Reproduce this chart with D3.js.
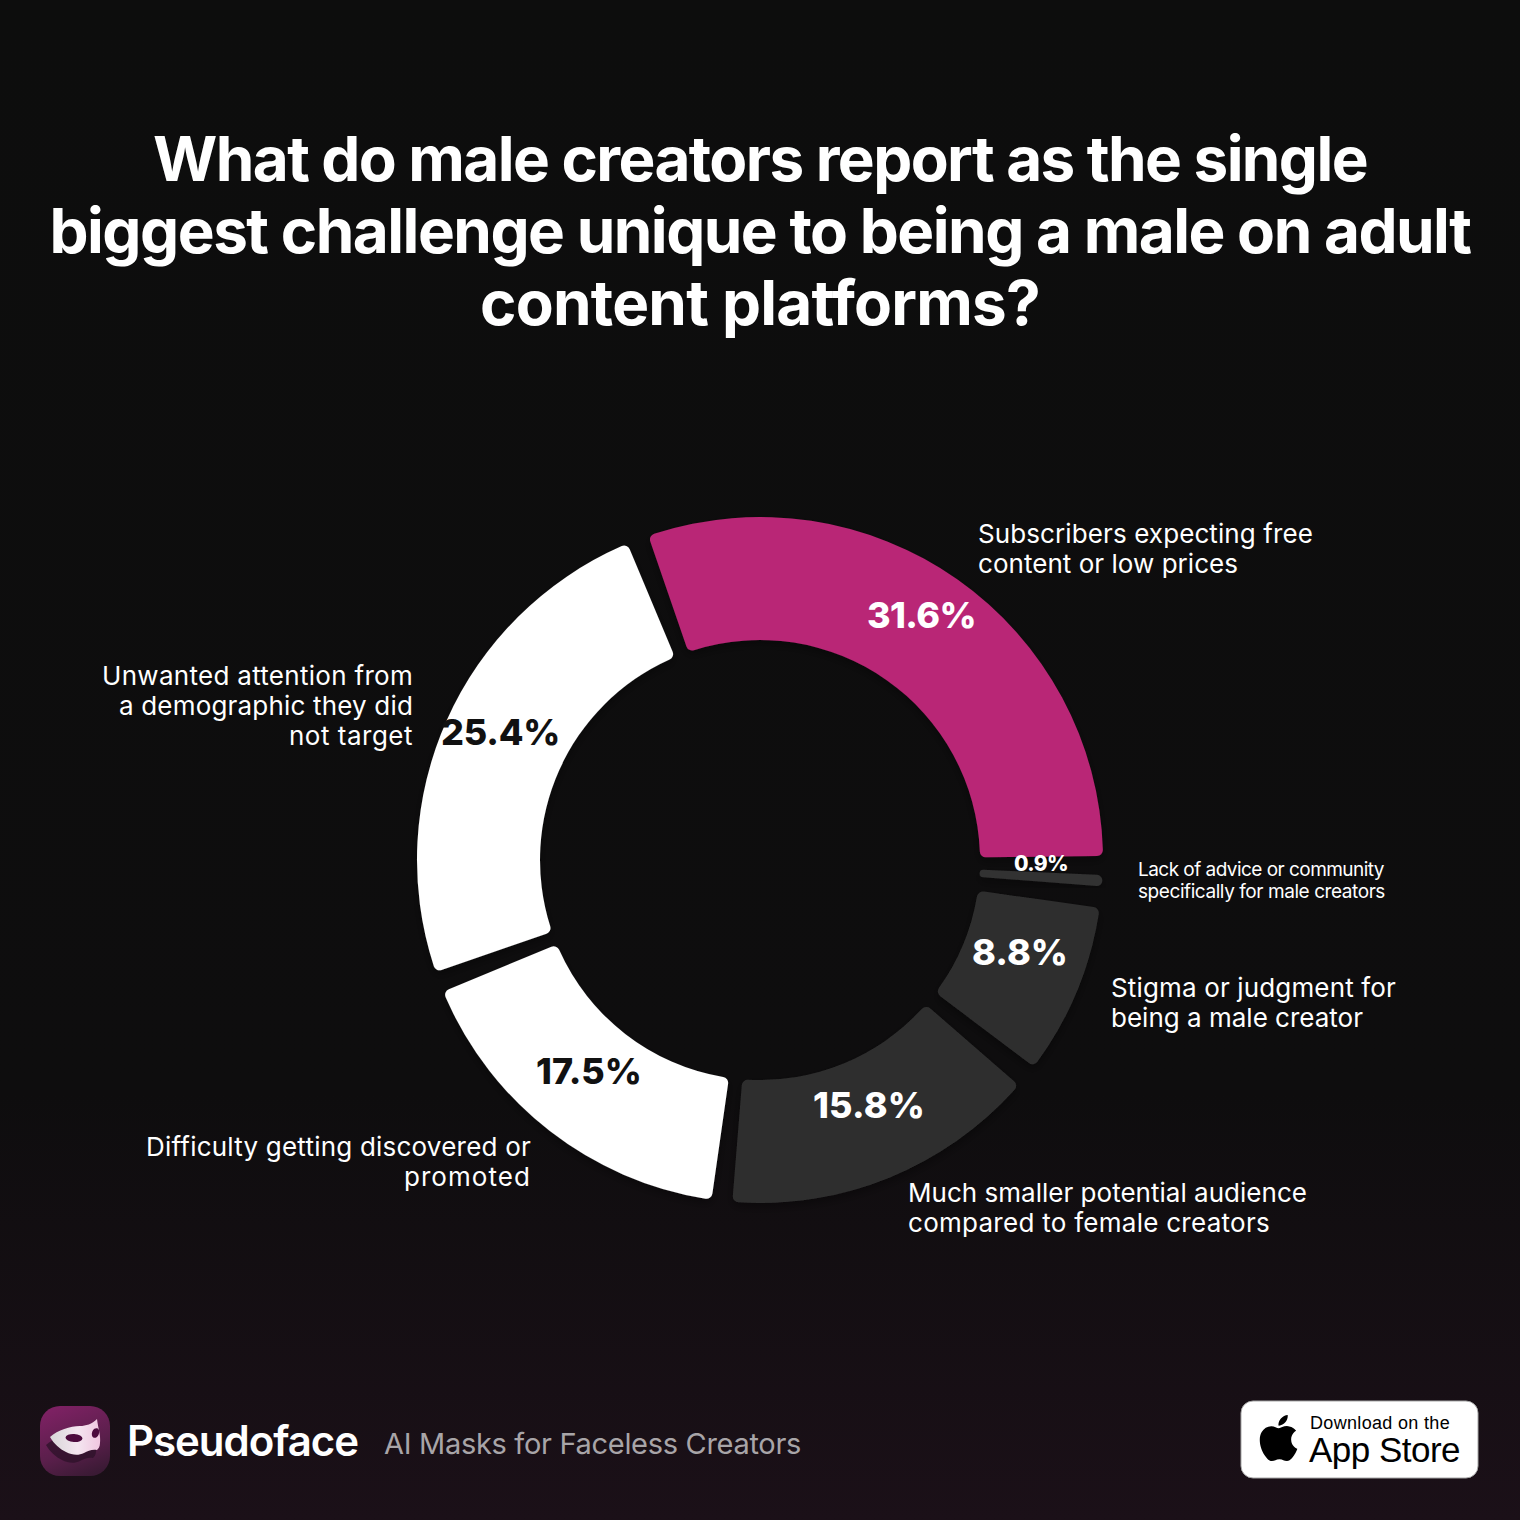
<!DOCTYPE html>
<html><head><meta charset="utf-8">
<script src="https://cdn.jsdelivr.net/npm/d3@7"></script>
<style>html,body{margin:0;padding:0;background:#0d0d0d}svg{display:block}text{font-family:Inter,"Noto Sans",sans-serif;font-kerning:normal}</style>
</head><body><div id="chart"></div>
<script>
const categories=["Subscribers expecting free content or low prices","Lack of advice or community specifically for male creators","Stigma or judgment for being a male creator","Much smaller potential audience compared to female creators","Difficulty getting discovered or promoted","Unwanted attention from a demographic they did not target"];
const values=[31.6,0.9,8.8,15.8,17.5,25.4];
const valueLabels=["31.6%","0.9%","8.8%","15.8%","17.5%","25.4%"];
const sliceColors=["#b92776","#303030","#2f2f2f","#2f2f2f","#ffffff","#ffffff"];
const valueColors=["#ffffff","#ffffff","#ffffff","#ffffff","#111111","#111111"];
const titleLines=["What do male creators report as the single","biggest challenge unique to being a male on adult","content platforms?"];

// layout of the annotation text: [x, baseline, fitted width]
const titleLayout=[[760,181,1214],[760,253,1421],[760,325,560]];
const valueLayout=[[921.5,628,109],[1041,871,54],[1020,965,96],[869,1118,112],[589,1084,106],[500.5,745,119]];
const categoryLayout=[
 {lines:["Subscribers expecting free","content or low prices"],x:978,anchor:"start",y:[543,573],w:[335,260],size:26},
 {lines:["Lack of advice or community","specifically for male creators"],x:1138,anchor:"start",y:[876,898],w:[246,247],size:19},
 {lines:["Stigma or judgment for","being a male creator"],x:1111,anchor:"start",y:[997,1027],w:[285,252],size:26},
 {lines:["Much smaller potential audience","compared to female creators"],x:908,anchor:"start",y:[1202,1232],w:[399,362],size:26},
 {lines:["Difficulty getting discovered or","promoted"],x:531,anchor:"end",y:[1156,1186],w:[385,127],size:26},
 {lines:["Unwanted attention from","a demographic they did","not target"],x:413,anchor:"end",y:[685,715,745],w:[311,294,124],size:26}];

const W=1520,H=1520,cx=760,cy=860,R=343,r=220;
const rad=d=>d*Math.PI/180;
const gap=rad(3.5);
// small visual trims of each slice's visible edges, in degrees: [start, end]
const edgeTrim=[[0.45,1.65],[1.35,0.2],[0.3,-0.5],[0,0],[0,0],[0,0.2]];
const svg=d3.select("#chart").append("svg").attr("width",W).attr("height",H).attr("viewBox",[0,0,W,H]);
const defs=svg.append("defs");
const bg=defs.append("linearGradient").attr("id","bg").attr("x1",0).attr("x2",0).attr("y1",0).attr("y2",1);
bg.append("stop").attr("offset","0").attr("stop-color","#0d0d0d");
bg.append("stop").attr("offset","0.72").attr("stop-color","#0e0d0e");
bg.append("stop").attr("offset","1").attr("stop-color","#1b1018");
const ic=defs.append("linearGradient").attr("id","ic").attr("x1",0.3).attr("x2",0.7).attr("y1",0).attr("y2",1);
ic.append("stop").attr("offset","0").attr("stop-color","#7d2163");
ic.append("stop").attr("offset","0.6").attr("stop-color","#5a1f4b");
ic.append("stop").attr("offset","1").attr("stop-color","#3a1a34");
const msk=defs.append("linearGradient").attr("id","msk").attr("x1",0).attr("x2",1).attr("y1",0.5).attr("y2",0.5);
msk.append("stop").attr("offset","0").attr("stop-color","#d8d6d8");
msk.append("stop").attr("offset","0.55").attr("stop-color","#f4e6f0");
msk.append("stop").attr("offset","1").attr("stop-color","#f0c6e0");
const sh=defs.append("filter").attr("id","sh").attr("x","-10%").attr("y","-10%").attr("width","120%").attr("height","120%");
sh.append("feDropShadow").attr("dx",0).attr("dy",4).attr("stdDeviation",5).attr("flood-color","#000").attr("flood-opacity",0.35);

svg.append("rect").attr("width",W).attr("height",H).attr("fill","url(#bg)");

// fit a text to a measured width through its letter spacing
function fit(sel,w){
 const n=sel.node(), nat=n.getComputedTextLength(), chars=n.textContent.length;
 sel.attr("letter-spacing",((w-nat)/chars).toFixed(3));
}
svg.append("g").selectAll("text").data(titleLines).join("text")
 .attr("x",(d,i)=>titleLayout[i][0]).attr("y",(d,i)=>titleLayout[i][1])
 .attr("text-anchor","middle").attr("fill","#fff").attr("font-size",62).attr("font-weight",700)
 .text(d=>d).each(function(d,i){fit(d3.select(this),titleLayout[i][2]);});

// ---- donut ----
const pie=d3.pie().sort(null).value(d=>d).padAngle(gap).startAngle(rad(-21.2)).endAngle(rad(338.8));
const arcs=pie(values);
const arc=d3.arc().innerRadius(r).outerRadius(R).cornerRadius(6).padAngle(0)
 .startAngle(d=>d.startAngle+gap/2+rad(edgeTrim[d.index][0])).endAngle(d=>d.endAngle-gap/2+rad(edgeTrim[d.index][1]));
const g=svg.append("g").attr("transform",`translate(${cx},${cy})`);
g.selectAll("path").data(arcs).join("path").attr("d",arc).attr("fill",(d,i)=>sliceColors[i]).attr("filter","url(#sh)");

svg.append("g").selectAll("text").data(valueLabels).join("text")
 .attr("x",(d,i)=>valueLayout[i][0]).attr("y",(d,i)=>valueLayout[i][1])
 .attr("text-anchor","middle").attr("fill",(d,i)=>valueColors[i]).attr("font-weight",800)
 .attr("font-size",(d,i)=>i===1?21:36).text(d=>d)
 .each(function(d,i){fit(d3.select(this),valueLayout[i][2]);});

const lab=svg.append("g");
categoryLayout.forEach(c=>{c.lines.forEach((t,j)=>{
 lab.append("text").attr("x",c.x).attr("y",c.y[j]).attr("text-anchor",c.anchor).attr("fill","#fff")
  .attr("font-size",c.size).attr("font-weight",400).text(t).call(fit,c.w[j]);});});

// ---- footer ----
const f=svg.append("g");
f.append("rect").attr("x",40).attr("y",1406).attr("width",70).attr("height",70).attr("rx",20).attr("fill","url(#ic)");
const maskD="M50 1437C58 1430 70 1426 80 1426C86 1426 92 1424 97 1419C98 1428 101 1436 100 1443C100 1447 98 1449 97 1450C92 1449 88 1451 84 1453C78 1456 72 1455 66 1452C60 1449 54 1444 50 1437Z";
f.append("path").attr("d",maskD).attr("fill","#2c1228").attr("opacity",0.75).attr("transform","translate(-4,8)");
f.append("path").attr("d",maskD).attr("fill","url(#msk)");
f.append("ellipse").attr("cx",74).attr("cy",1438).attr("rx",8.5).attr("ry",4).attr("fill","#4d0b3e").attr("transform","rotate(3 74 1438)");
f.append("ellipse").attr("cx",95.5).attr("cy",1433).attr("rx",3.5).attr("ry",5).attr("fill","#4d0b3e").attr("transform","rotate(20 95.5 1433)");
f.append("text").attr("x",127).attr("y",1456).attr("fill","#fff").attr("font-size",42).attr("font-weight",600).text("Pseudoface").call(fit,231);
f.append("text").attr("x",384).attr("y",1454).attr("fill","#a8a5a8").attr("font-size",29).attr("font-weight",400).text("AI Masks for Faceless Creators").call(fit,417);

f.append("rect").attr("x",1241).attr("y",1401).attr("width",237).attr("height",77).attr("rx",12).attr("fill","#fff").attr("stroke","#a6a6a6").attr("stroke-width",1);
f.append("path").attr("transform","translate(1255.5,1415) scale(1.92)").attr("fill","#000")
 .attr("d","M12.152 6.896c-.948 0-2.415-1.078-3.96-1.04-2.04.027-3.91 1.183-4.961 3.014-2.117 3.675-.546 9.103 1.519 12.09 1.013 1.454 2.208 3.09 3.792 3.039 1.52-.065 2.09-.987 3.935-.987 1.831 0 2.35.987 3.96.948 1.637-.026 2.676-1.48 3.676-2.948 1.156-1.688 1.636-3.325 1.662-3.415-.039-.013-3.182-1.221-3.22-4.857-.026-3.04 2.48-4.494 2.597-4.559-1.429-2.09-3.623-2.324-4.39-2.376-2-.156-3.675 1.09-4.61 1.09zM15.53 3.83c.843-1.012 1.4-2.427 1.245-3.83-1.207.052-2.662.805-3.532 1.818-.78.896-1.454 2.338-1.273 3.714 1.338.104 2.715-.688 3.559-1.701");
f.append("text").attr("x",1310).attr("y",1429).attr("fill","#000").style("font-family","'Liberation Sans',sans-serif").attr("font-size",18).text("Download on the").call(fit,140);
f.append("text").attr("x",1309).attr("y",1462).attr("fill","#000").style("font-family","'Liberation Sans',sans-serif").attr("font-size",35).text("App Store").call(fit,151);
</script></body></html>
